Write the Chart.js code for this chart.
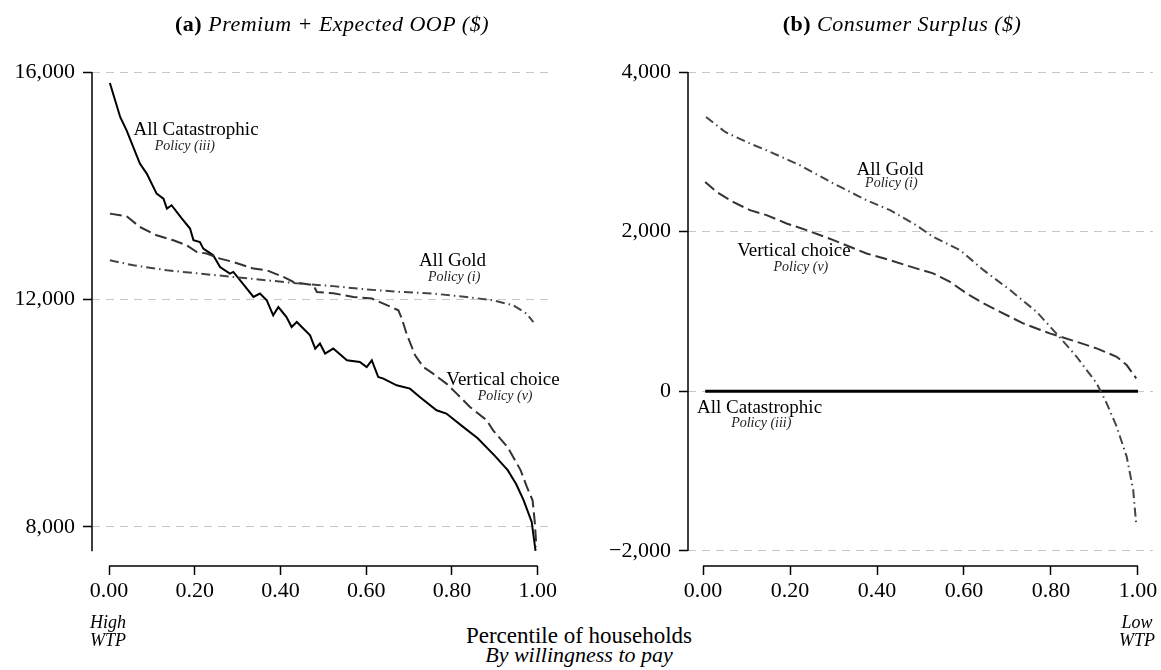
<!DOCTYPE html>
<html>
<head>
<meta charset="utf-8">
<script src="https://cdn.jsdelivr.net/npm/chart.js@4.4.1/dist/chart.umd.min.js"></script>
<style>
body { margin: 0; background: #fff; width: 1161px; height: 670px; position: relative; overflow: hidden; font-family: "Liberation Serif", serif; color: #000; }
canvas { position: absolute; top: 0; }
#chart-a { left: 0; }
#chart-b { left: 580px; }
.txt { position: absolute; white-space: nowrap; transform: translateX(-50%); line-height: 1; }
</style>
</head>
<body>
<canvas id="chart-a" width="580" height="620"></canvas>
<canvas id="chart-b" width="581" height="620"></canvas>

<div class="txt" style="left:332px;top:13px;font-size:22px;letter-spacing:0.5px"><b>(a)</b> <i>Premium + Expected OOP ($)</i></div>
<div class="txt" style="left:902px;top:13px;font-size:22px;letter-spacing:0.5px"><b>(b)</b> <i>Consumer Surplus ($)</i></div>
<div class="txt" style="left:108px;top:613px;font-size:18px;text-align:center;line-height:18px"><i>High<br>WTP</i></div>
<div class="txt" style="left:1137px;top:613px;font-size:18px;text-align:center;line-height:18px"><i>Low<br>WTP</i></div>
<div class="txt" style="left:579px;top:624px;font-size:23px">Percentile of households</div>
<div class="txt" style="left:579px;top:644px;font-size:22px"><i>By willingness to pay</i></div>

<script>
// shared x ticks
const xTicks = [0, 0.2, 0.4, 0.6, 0.8, 1]

// (a) Premium + Expected OOP
const yTicksA = [8000, 12000, 16000]
const catA_x = [0.002, 0.026, 0.041, 0.072, 0.088, 0.111, 0.127, 0.135, 0.146, 0.170, 0.189, 0.197, 0.212, 0.220, 0.243, 0.259, 0.282, 0.290, 0.306, 0.337, 0.352, 0.368, 0.383, 0.395, 0.414, 0.426, 0.438, 0.469, 0.481, 0.492, 0.504, 0.523, 0.555, 0.585, 0.601, 0.613, 0.628, 0.640, 0.671, 0.702, 0.725, 0.764, 0.787, 0.826, 0.86, 0.90, 0.93, 0.95, 0.967, 0.986, 0.995]
const catA_y = [15807, 15209, 14975, 14389, 14214, 13862, 13774, 13598, 13657, 13423, 13247, 13041, 13011, 12895, 12777, 12572, 12455, 12484, 12338, 12044, 12104, 11986, 11722, 11868, 11692, 11516, 11604, 11370, 11137, 11225, 11049, 11137, 10931, 10901, 10813, 10931, 10637, 10608, 10491, 10433, 10286, 10052, 9994, 9760, 9560, 9250, 9000, 8750, 8472, 8088, 7578]
const vertA_x = [0.002, 0.041, 0.072, 0.111, 0.150, 0.181, 0.205, 0.228, 0.259, 0.290, 0.337, 0.368, 0.407, 0.430, 0.477, 0.485, 0.523, 0.570, 0.613, 0.640, 0.675, 0.683, 0.694, 0.714, 0.733, 0.756, 0.787, 0.811, 0.842, 0.881, 0.896, 0.93, 0.96, 0.975, 0.988, 0.993, 0.997]
const vertA_y = [13510, 13463, 13275, 13129, 13041, 12953, 12835, 12807, 12719, 12660, 12543, 12514, 12396, 12308, 12250, 12133, 12110, 12044, 12016, 11928, 11810, 11664, 11400, 11019, 10813, 10697, 10521, 10345, 10110, 9876, 9700, 9400, 9000, 8700, 8470, 8100, 7650]
const goldA_x = [0.002, 0.057, 0.135, 0.212, 0.290, 0.368, 0.446, 0.523, 0.601, 0.679, 0.756, 0.834, 0.896, 0.943, 0.974, 0.990]
const goldA_y = [12689, 12601, 12514, 12455, 12396, 12338, 12279, 12235, 12177, 12133, 12104, 12044, 11986, 11898, 11752, 11604]

// (b) Consumer surplus
const yTicksB = [-2000, 0, 2000, 4000]
const catB_x = [0.005, 1.0]
const catB_y = [0, 0]
const vertB_x = [0.005, 0.031, 0.069, 0.108, 0.146, 0.192, 0.238, 0.300, 0.376, 0.430, 0.490, 0.529, 0.568, 0.606, 0.645, 0.683, 0.736, 0.797, 0.859, 0.905, 0.951, 0.974, 0.996]
const vertB_y = [2623, 2498, 2373, 2269, 2207, 2103, 2019, 1894, 1727, 1643, 1540, 1477, 1370, 1227, 1101, 996, 851, 726, 621, 538, 433, 329, 163]
const goldB_x = [0.007, 0.051, 0.108, 0.146, 0.223, 0.300, 0.376, 0.430, 0.490, 0.529, 0.591, 0.645, 0.706, 0.767, 0.812, 0.859, 0.905, 0.928, 0.951, 0.974, 0.989, 0.996]
const goldB_y = [3437, 3249, 3104, 3020, 2832, 2603, 2394, 2269, 2081, 1935, 1768, 1518, 1268, 996, 726, 433, 100, -150, -443, -818, -1235, -1673]

const pts = (xs, ys) => xs.map((x, i) => ({x: x, y: ys[i]}))
const fmtY = v => v.toLocaleString('en-US').replace('-', '\u2212')

// axis lines (Stata style, detached) + curve labels
const axesAndNotes = {
    id: 'axesAndNotes',
    afterDatasetsDraw(chart, args, opts) {
        const {ctx, chartArea, scales: {x, y}} = chart
        ctx.save()
        ctx.strokeStyle = '#000'
        ctx.lineWidth = 1.5
        ctx.beginPath()
        ctx.moveTo(chartArea.left, y.getPixelForValue(opts.yTop))
        ctx.lineTo(chartArea.left, y.getPixelForValue(opts.yBottom))
        ctx.moveTo(x.getPixelForValue(0), chartArea.bottom)
        ctx.lineTo(x.getPixelForValue(1), chartArea.bottom)
        ctx.stroke()
        ctx.textAlign = 'center'
        ctx.textBaseline = 'alphabetic'
        opts.notes.forEach(n => {
            ctx.fillStyle = n.small ? '#222' : '#000'
            ctx.font = n.small ? 'italic 14px "Liberation Serif"' : '19px "Liberation Serif"'
            ctx.fillText(n.text, x.getPixelForValue(n.x), y.getPixelForValue(n.y))
        })
        ctx.restore()
    }
}

const makeChart = (id, datasets, cfg) => new Chart(document.getElementById(id), {
    type: 'line',
    data: {datasets: datasets},
    plugins: [axesAndNotes],
    options: {
        responsive: false,
        animation: false,
        devicePixelRatio: 1,
        layout: {padding: {top: 72, right: cfg.padRight, left: 0, bottom: 0}},
        elements: {point: {radius: 0}, line: {tension: 0, fill: false}},
        plugins: {
            legend: {display: false},
            tooltip: {enabled: false},
            axesAndNotes: {yTop: cfg.yTicks[cfg.yTicks.length - 1], yBottom: cfg.yAxisEnd, notes: cfg.notes}
        },
        scales: {
            x: {
                type: 'linear',
                min: cfg.xMin,
                max: cfg.xMax,
                afterBuildTicks: s => { s.ticks = xTicks.map(v => ({value: v})) },
                afterFit: s => { s.height = 54 },
                grid: {display: true, drawOnChartArea: false, drawTicks: true, tickLength: 9, tickColor: '#000', tickWidth: 1.5},
                border: {display: false},
                ticks: {padding: 3, color: '#000', font: {family: 'Liberation Serif', size: 22}, maxRotation: 0, callback: v => v.toFixed(2)}
            },
            y: {
                type: 'linear',
                min: cfg.yMin,
                max: cfg.yTicks[cfg.yTicks.length - 1],
                afterBuildTicks: s => { s.ticks = cfg.yTicks.map(v => ({value: v})) },
                afterFit: s => { s.width = cfg.yWidth },
                grid: {color: '#c8c8c8', lineWidth: 1, drawTicks: true, tickLength: 9, tickColor: '#000', tickWidth: 1.5},
                border: {display: false, dash: [8, 6]},
                ticks: {padding: 8, color: '#000', font: {family: 'Liberation Serif', size: 22}, callback: fmtY}
            }
        }
    }
})

const dashLong = [12, 5]
const dashDot = [9, 4, 1.5, 4]

makeChart('chart-a', [
    {data: pts(goldA_x, goldA_y), borderColor: '#444', borderWidth: 2, borderDash: dashDot},
    {data: pts(vertA_x, vertA_y), borderColor: '#333', borderWidth: 2, borderDash: dashLong},
    {data: pts(catA_x, catA_y), borderColor: '#000', borderWidth: 2}
], {
    yTicks: yTicksA, yMin: 7314, yAxisEnd: 7573, xMin: -0.0397, xMax: 1.038, yWidth: 92, padRight: 26,
    notes: [
        {text: 'All Catastrophic', x: 0.203, y: 14887},
        {text: 'Policy (iii)', x: 0.177, y: 14623, small: true},
        {text: 'All Gold', x: 0.801, y: 12584},
        {text: 'Policy (i)', x: 0.805, y: 12320, small: true},
        {text: 'Vertical choice', x: 0.919, y: 10491},
        {text: 'Policy (v)', x: 0.924, y: 10228, small: true}
    ]
})

makeChart('chart-b', [
    {data: pts(goldB_x, goldB_y), borderColor: '#444', borderWidth: 2, borderDash: dashDot},
    {data: pts(vertB_x, vertB_y), borderColor: '#333', borderWidth: 2, borderDash: dashLong},
    {data: pts(catB_x, catB_y), borderColor: '#000', borderWidth: 3}
], {
    yTicks: yTicksB, yMin: -2188, yAxisEnd: -2000, xMin: -0.0345, xMax: 1.0345, yWidth: 108, padRight: 8,
    notes: [
        {text: 'All Gold', x: 0.430, y: 2705},
        {text: 'Policy (i)', x: 0.433, y: 2555, small: true},
        {text: 'Vertical choice', x: 0.209, y: 1693},
        {text: 'Policy (v)', x: 0.225, y: 1506, small: true},
        {text: 'All Catastrophic', x: 0.130, y: -272},
        {text: 'Policy (iii)', x: 0.134, y: -447, small: true}
    ]
})
</script>
</body>
</html>
